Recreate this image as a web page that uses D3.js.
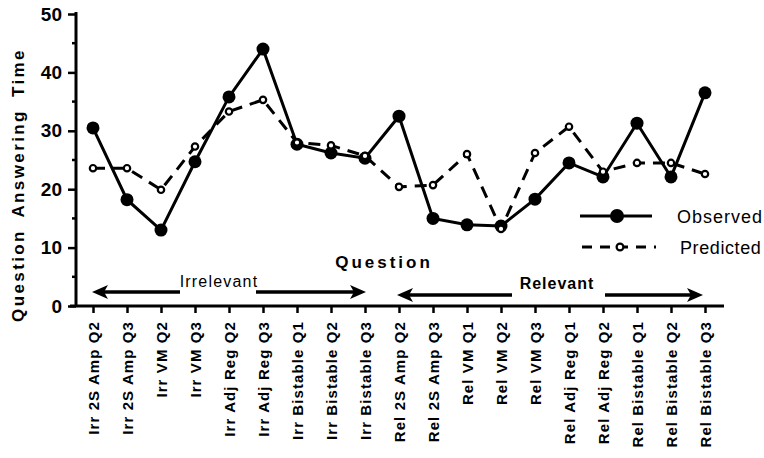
<!DOCTYPE html>
<html lang="en">
<head>
<meta charset="UTF-8">
<title>Question Answering Time</title>
<script src="https://cdn.jsdelivr.net/npm/d3@7"></script>
<style>
  body { margin: 0; background: #fff; }
  svg text { font-family: "Liberation Sans", Arial, Helvetica, sans-serif; fill: #000; }
</style>
</head>
<body>
<svg id="chart"></svg>
<script>
const categories = ["Irr 2S Amp Q2", "Irr 2S Amp Q3", "Irr VM Q2", "Irr VM Q3", "Irr Adj Reg Q2",
  "Irr Adj Reg Q3", "Irr Bistable Q1", "Irr Bistable Q2", "Irr Bistable Q3", "Rel 2S Amp Q2",
  "Rel 2S Amp Q3", "Rel VM Q1", "Rel VM Q2", "Rel VM Q3", "Rel Adj Reg Q1", "Rel Adj Reg Q2",
  "Rel Bistable Q1", "Rel Bistable Q2", "Rel Bistable Q3"];
const observed = [30.5, 18.2, 13.0, 24.7, 35.8, 44.0, 27.7, 26.2, 25.3, 32.5,
  15.0, 13.9, 13.7, 18.3, 24.5, 22.1, 31.3, 22.1, 36.5];
const predicted = [23.6, 23.6, 19.9, 27.3, 33.3, 35.3, 28.0, 27.5, 25.7, 20.4,
  20.7, 26.0, 13.2, 26.2, 30.7, 23.0, 24.5, 24.5, 22.6];
const yTicks = [0, 10, 20, 30, 40, 50];
const yMinorTicks = [5, 15, 25, 35, 45];

const W = 764, H = 458;
const svg = d3.select("#chart").attr("width", W).attr("height", H);

const x = d3.scalePoint().domain(categories).range([93, 705]);
const y = d3.scaleLinear().domain([0, 50]).range([306, 14]);
const axisX = 76;

// y axis
const yAxis = svg.append("g").attr("transform", "translate(" + axisX + ",0)");
yAxis.call(d3.axisLeft(y).tickValues(yTicks).tickSize(8).tickPadding(6).tickFormat(d3.format("d")));
yAxis.select(".domain").attr("stroke-width", 3).attr("d", "M0," + (y(50) - 2) + "V" + (y(0) + 1));
yAxis.selectAll(".tick line").attr("stroke-width", 2.5);
yAxis.selectAll(".tick text").attr("font-size", 19).attr("font-weight", "bold")
  .style("font-family", "'Liberation Sans', Arial, sans-serif");
yAxis.selectAll(".minor").data(yMinorTicks).enter().append("line")
  .attr("x1", -4).attr("x2", 0)
  .attr("y1", d => y(d)).attr("y2", d => y(d))
  .attr("stroke", "#000").attr("stroke-width", 2.5);

// x axis
const xAxis = svg.append("g").attr("transform", "translate(0," + y(0) + ")");
xAxis.call(d3.axisBottom(x).tickSize(7).tickPadding(4));
xAxis.select(".domain").attr("stroke-width", 3).attr("d", "M" + (axisX - 6) + ",0H724");
xAxis.selectAll(".tick line").attr("stroke-width", 2.5);
xAxis.selectAll(".tick text")
  .attr("font-size", 15).attr("font-weight", "bold")
  .style("letter-spacing", "1.1px")
  .style("font-family", "'Liberation Sans', Arial, sans-serif")
  .attr("text-anchor", "end")
  .attr("transform", "rotate(-90)")
  .attr("x", -15).attr("y", 0).attr("dy", "0.36em");

// axis titles
svg.append("text")
  .attr("transform", "translate(24,185) rotate(-90)")
  .attr("text-anchor", "middle")
  .attr("font-size", 17).attr("font-weight", "bold")
  .style("letter-spacing", "2.4px").style("word-spacing", "5px")
  .text("Question Answering Time");

svg.append("text")
  .attr("x", 384).attr("y", 268)
  .attr("text-anchor", "middle")
  .attr("font-size", 17).attr("font-weight", "bold")
  .style("letter-spacing", "3px")
  .text("Question");

// group arrows
function arrow(x1, x2, yy) {
  const dir = x2 > x1 ? 1 : -1;
  svg.append("line").attr("x1", x1).attr("x2", x2 - dir * 12)
    .attr("y1", yy).attr("y2", yy).attr("stroke", "#000").attr("stroke-width", 3.5);
  svg.append("path")
    .attr("d", "M" + x2 + "," + yy + "L" + (x2 - dir * 16) + "," + (yy - 7) + "L" + (x2 - dir * 12) + "," + yy +
      "L" + (x2 - dir * 16) + "," + (yy + 7) + "Z")
    .attr("fill", "#000");
}
arrow(180, 92, 292);
arrow(256, 366, 292);
arrow(512, 397, 295);
arrow(605, 703, 295);

svg.append("text").attr("x", 219).attr("y", 287).attr("text-anchor", "middle")
  .attr("font-size", 16).style("letter-spacing", "1.2px").text("Irrelevant");
svg.append("text").attr("x", 557).attr("y", 289).attr("text-anchor", "middle")
  .attr("font-size", 16).attr("font-weight", "bold").style("letter-spacing", "1px").text("Relevant");

// series
const line = d3.line().x((d, i) => x(categories[i])).y(d => y(d));

svg.append("path").datum(predicted).attr("d", line)
  .attr("fill", "none").attr("stroke", "#000").attr("stroke-width", 3)
  .attr("stroke-dasharray", "12,8");
svg.append("path").datum(observed).attr("d", line)
  .attr("fill", "none").attr("stroke", "#000").attr("stroke-width", 3);

svg.selectAll(".obs").data(observed).enter().append("circle")
  .attr("cx", (d, i) => x(categories[i])).attr("cy", d => y(d))
  .attr("r", 6.5).attr("fill", "#000");
svg.selectAll(".pred").data(predicted).enter().append("circle")
  .attr("cx", (d, i) => x(categories[i])).attr("cy", d => y(d))
  .attr("r", 3.2).attr("fill", "#fff").attr("stroke", "#000").attr("stroke-width", 2.2);

// legend
const leg = svg.append("g");
leg.append("line").attr("x1", 580).attr("x2", 652).attr("y1", 216).attr("y2", 216)
  .attr("stroke", "#000").attr("stroke-width", 3);
leg.append("circle").attr("cx", 617).attr("cy", 216).attr("r", 7).attr("fill", "#000");
leg.append("text").attr("x", 677).attr("y", 223).attr("font-size", 18)
  .style("letter-spacing", "1px").text("Observed");
leg.append("line").attr("x1", 582).attr("x2", 656).attr("y1", 247).attr("y2", 247)
  .attr("stroke", "#000").attr("stroke-width", 3).attr("stroke-dasharray", "10,8");
leg.append("circle").attr("cx", 620).attr("cy", 247).attr("r", 3.4)
  .attr("fill", "#fff").attr("stroke", "#000").attr("stroke-width", 2.2);
leg.append("text").attr("x", 680).attr("y", 254).attr("font-size", 18)
  .style("letter-spacing", "0.6px").text("Predicted");
</script>
</body>
</html>
